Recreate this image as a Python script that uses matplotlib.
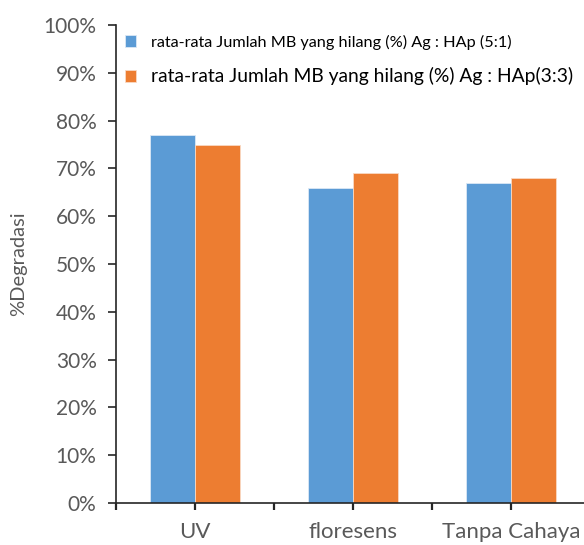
import numpy as np
import matplotlib
matplotlib.use("Agg")
import matplotlib.pyplot as plt
from matplotlib.ticker import PercentFormatter, FixedLocator

plt.rcParams['font.family'] = ['Lato', 'DejaVu Sans']

categories = ['UV', 'floresens', 'Tanpa Cahaya']
ratio_51 = [77, 66, 67]
ratio_33 = [75, 69, 68]
series_labels = ['rata-rata Jumlah MB yang hilang (%) Ag : HAp (5:1)',
                 'rata-rata Jumlah MB yang hilang (%) Ag : HAp(3:3)']

blue = '#5B9BD5'
orange = '#ED7D31'
grey = '#595959'

fig = plt.figure(figsize=(5.84, 5.45), dpi=100)
ax = fig.add_axes([116 / 584, 42 / 545, 474 / 584, 478 / 545])

x = np.arange(len(categories))
w = 0.285
ax.bar(x - w / 2, ratio_51, w, color=blue, edgecolor='#dbe8f5', linewidth=0.6,
       label=series_labels[0])
ax.bar(x + w / 2, ratio_33, w, color=orange, edgecolor='#f9d9c4', linewidth=0.6,
       label=series_labels[1])

ax.set_xlim(-0.5, 2.5)
ax.set_ylim(0, 100)
ax.set_yticks(np.arange(0, 101, 10))
ax.yaxis.set_major_formatter(PercentFormatter(decimals=0))

ax.set_xticks(x)
ax.set_xticklabels(categories)
ax.xaxis.set_minor_locator(FixedLocator([-0.5, 0.5, 1.5]))

for side in ['top', 'right']:
    ax.spines[side].set_visible(False)
for side in ['left', 'bottom']:
    ax.spines[side].set_color('#262626')
    ax.spines[side].set_linewidth(1.2)

ax.tick_params(axis='y', direction='out', length=6, width=1.2, color='#262626',
               labelsize=15, labelcolor=grey, pad=8)
ax.tick_params(axis='x', which='both', direction='out', length=5, width=1.6,
               color='#262626', labelsize=16, labelcolor=grey, pad=9)

ax.set_ylabel('%Degradasi', fontsize=14.5, color=grey, labelpad=12)

leg = ax.legend(loc='upper left', bbox_to_anchor=(-0.003, 1.0), frameon=False,
                handlelength=0.7, handleheight=0.7, handletextpad=0.9,
                labelspacing=1.0, borderaxespad=0.2, fontsize=12)
texts = leg.get_texts()
texts[0].set_fontsize(11.7)
texts[1].set_fontsize(13.9)

fig.savefig('out.png', dpi=100)
